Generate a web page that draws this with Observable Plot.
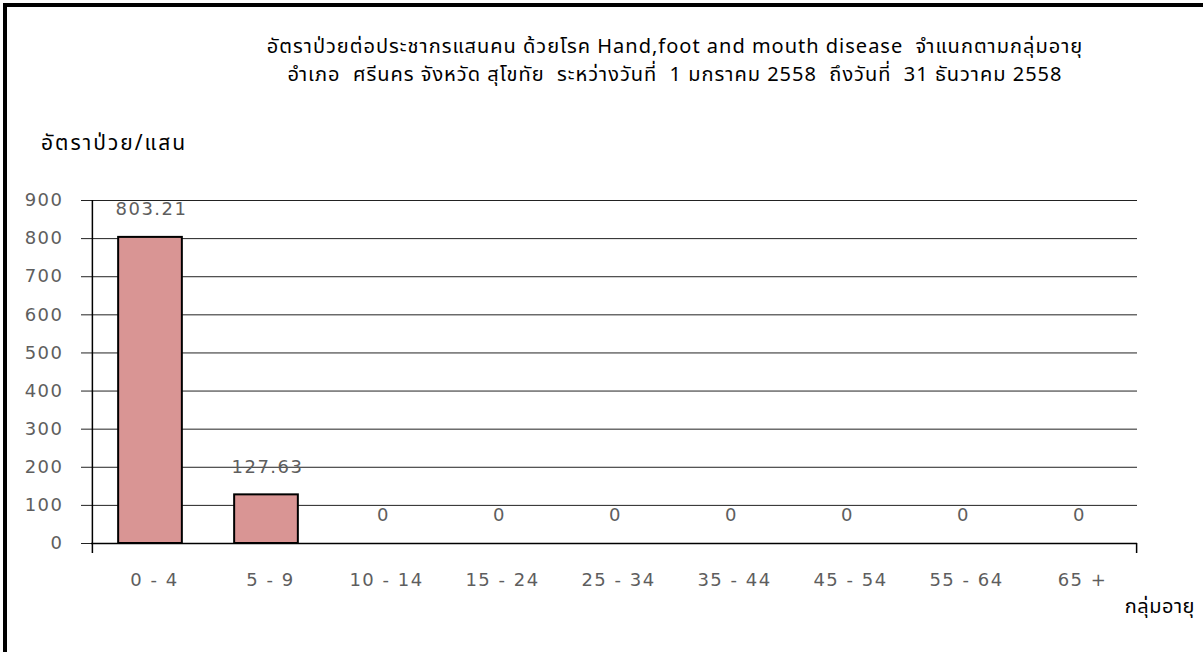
<!DOCTYPE html>
<html>
<head>
<meta charset="utf-8">
<script src="https://cdn.jsdelivr.net/npm/d3@7"></script>
<script src="https://cdn.jsdelivr.net/npm/@observablehq/plot@0.6"></script>
<style>
  body { margin: 0; background: #fff; }
  #wrap { position: relative; width: 1203px; height: 652px; overflow: hidden; background: #fff; }
  #frame { position: absolute; left: 3px; top: 3px; width: 1300px; height: 700px; border-top: 4px solid #000; border-left: 4px solid #000; }
  .t { position: absolute; font-family: Tahoma, "Noto Sans Thai", "Noto Sans", sans-serif; color: #000; white-space: nowrap; }
  #title { left: 0; width: 1350px; text-align: center; top: 33px; font-size: 20px; line-height: 28px; letter-spacing: 1px; }
  #ylab { left: 41px; top: 128px; font-size: 21px; letter-spacing: 2px; }
  #xlab { right: 8px; top: 592px; font-size: 20px; letter-spacing: 0.5px; }
  #chart { position: absolute; left: 0; top: 0; }
</style>
</head>
<body>
<div id="wrap">
  <div id="frame"></div>
  <div id="chart"></div>
  <div class="t" id="title">อัตราป่วยต่อประชากรแสนคน ด้วยโรค Hand,foot and mouth disease&nbsp; จำแนกตามกลุ่มอายุ<br>อำเภอ&nbsp; ศรีนคร จังหวัด สุโขทัย&nbsp; ระหว่างวันที่&nbsp; 1 มกราคม 2558&nbsp; ถึงวันที่&nbsp; 31 ธันวาคม 2558</div>
  <div class="t" id="ylab">อัตราป่วย/แสน</div>
  <div class="t" id="xlab">กลุ่มอายุ</div>
</div>
<script>
const ageGroups = ["0 - 4", "5 - 9", "10 - 14", "15 - 24", "25 - 34", "35 - 44", "45 - 54", "55 - 64", "65 +"];
const rates = [803.21, 127.63, 0, 0, 0, 0, 0, 0, 0];
const rateLabels = ["803.21", "127.63", "0", "0", "0", "0", "0", "0", "0"];
const yTicks = [0, 100, 200, 300, 400, 500, 600, 700, 800, 900];

const data = ageGroups.map((g, i) => ({group: g, rate: rates[i], label: rateLabels[i]}));

const W = 1203, H = 652;
const mL = 91, mR = 66, mT = 200, mB = 109;
const plotH = H - mT - mB;
const bw = (W - mL - mR) / ageGroups.length;
const inset = bw * 0.225;
const font = "'DejaVu Sans', Verdana, sans-serif";
const gray = "#5e5e5e";
const numStyle = {fill: gray, fontSize: 18, fontFamily: font};

const chart = Plot.plot({
  width: W, height: H,
  marginLeft: mL, marginRight: mR, marginTop: mT, marginBottom: mB,
  style: {background: "transparent", fontFamily: font, letterSpacing: "1.5px"},
  x: {domain: ageGroups, padding: 0, label: null},
  y: {domain: [0, 900], label: null},
  marks: [
    Plot.ruleY(yTicks, {stroke: "#222", strokeWidth: 1, insetLeft: -10}),
    Plot.barY(data, {x: "group", y: "rate", fill: "#d99594", stroke: "#000", strokeWidth: 2, insetLeft: inset, insetRight: inset}),
    Plot.text(data, {x: "group", y: "rate", text: "label", dy: -28, dx: 1, ...numStyle}),
    Plot.ruleX(ageGroups, {x: "group", dx: -bw/2, stroke: "#000", strokeWidth: 1.5, insetTop: plotH, insetBottom: -10}),
    Plot.ruleX([ageGroups[ageGroups.length - 1]], {x: d => d, dx: bw/2, stroke: "#000", strokeWidth: 1.5, insetTop: plotH, insetBottom: -10}),
    Plot.ruleX([ageGroups[0]], {x: d => d, dx: -bw/2, stroke: "#000", strokeWidth: 1.5, insetBottom: -10}),
    Plot.ruleY([0], {stroke: "#000", strokeWidth: 1.5}),
    Plot.axisY({ticks: yTicks, tickSize: 0, tickPadding: 28, ...numStyle}),
    Plot.axisX({tickSize: 0, tickPadding: 30, dx: 4, ...numStyle})
  ]
});
document.getElementById("chart").appendChild(chart);
</script>
</body>
</html>
